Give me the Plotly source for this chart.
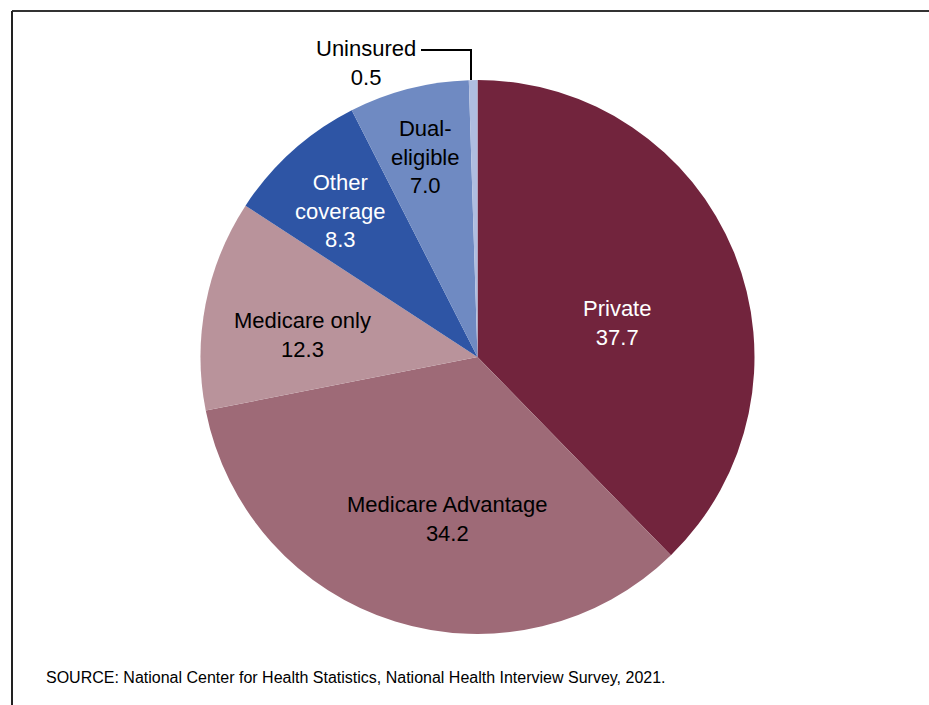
import plotly.graph_objects as go

categories = ["Private", "Medicare Advantage", "Medicare only", "Other coverage", "Dual-eligible", "Uninsured"]
label_text = ["Private", "Medicare Advantage", "Medicare only", "Other<br>coverage", "Dual-<br>eligible", "Uninsured"]
values = [37.7, 34.2, 12.3, 8.3, 7.0, 0.5]
colors = ["#72243D", "#9E6A77", "#B9939B", "#2E55A5", "#6F8AC2", "#AFBDE0"]
text_colors = ["white", "black", "black", "white", "black", "black"]
# label centres in pixels (layout only)
label_px = [(617, 323), (447, 519), (302, 335), (340, 211), (425, 157), (366, 63)]

W, H = 929, 705
cx, cy, r = 477.5, 357, 277


def px(x):
    return x / W


def py(y):
    return 1 - y / H


fig = go.Figure(go.Pie(
    labels=categories,
    values=values,
    sort=False,
    direction="clockwise",
    rotation=0,
    marker=dict(colors=colors, line=dict(width=0)),
    textinfo="none",
    hoverinfo="skip",
    showlegend=False,
    domain=dict(x=[px(cx - r), px(cx + r)], y=[py(cy + r), py(cy - r)]),
))

annotations = []
for t, v, c, (x, y) in zip(label_text, values, text_colors, label_px):
    annotations.append(dict(
        x=px(x), y=py(y), xref="paper", yref="paper",
        text=f"{t}<br>{v:.1f}", showarrow=False,
        font=dict(family="Liberation Sans, Arial, sans-serif", size=22, color=c),
        align="center", xanchor="center", yanchor="middle",
    ))

annotations.append(dict(
    x=px(44), y=py(677), xref="paper", yref="paper", xanchor="left", yanchor="middle",
    text="SOURCE: National Center for Health Statistics, National Health Interview Survey, 2021.",
    showarrow=False, font=dict(family="Liberation Sans, Arial, sans-serif", size=16, color="black"),
))

shapes = [
    dict(type="line", xref="paper", yref="paper", x0=px(12), x1=1, y0=py(11), y1=py(11),
         line=dict(color="#333333", width=2)),
    dict(type="line", xref="paper", yref="paper", x0=px(12), x1=px(12), y0=py(11), y1=0,
         line=dict(color="#222222", width=2)),
    dict(type="path", xref="paper", yref="paper",
         path=f"M {px(421)},{py(50)} L {px(471)},{py(50)} L {px(471)},{py(80)}",
         line=dict(color="black", width=2)),
]

fig.update_layout(
    width=W, height=H,
    margin=dict(l=0, r=0, t=0, b=0),
    paper_bgcolor="white", plot_bgcolor="white",
    annotations=annotations, shapes=shapes,
)

fig.write_html(
    "out.html",
    config={"displayModeBar": False},
    post_script="document.body.style.margin='0';document.body.style.overflow='hidden';",
)
